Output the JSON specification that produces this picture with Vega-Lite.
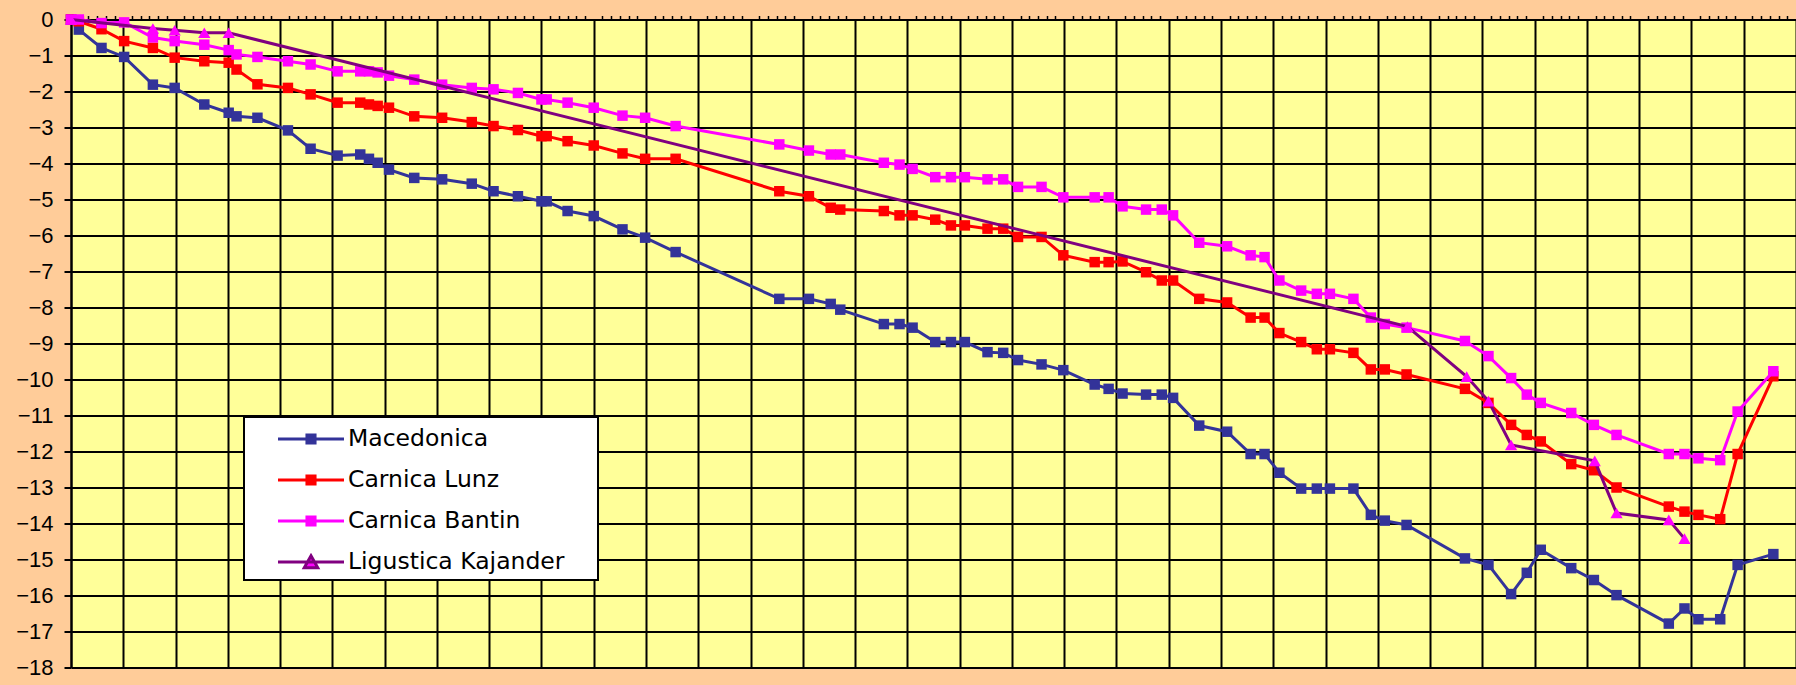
{
"$schema": "https://vega.github.io/schema/vega-lite/v6.json",
"width": 1725, "height": 648,
"autosize": {"type": "none"},
"padding": {"left": 71, "top": 19.5, "right": 0, "bottom": 17.5},
"background": "#FFCC99",
"config": {"view": {"fill": "#FFFF99", "stroke": null}},
"datasets": {
"mac": [[0,0],[0.9,-0.28],[3.5,-0.79],[6.1,-1.04],[9.4,-1.81],[11.9,-1.9],[15.3,-2.36],[18.1,-2.59],[19,-2.69],[21.4,-2.73],[24.9,-3.08],[27.5,-3.59],[30.6,-3.78],[33.2,-3.75],[34.2,-3.87],[35.2,-3.98],[36.5,-4.17],[39.4,-4.4],[42.6,-4.44],[46,-4.56],[48.5,-4.77],[51.3,-4.91],[54,-5.05],[54.6,-5.05],[57,-5.32],[60,-5.46],[63.3,-5.83],[65.9,-6.06],[69.4,-6.46],[81.3,-7.76],[84.7,-7.76],[87.2,-7.9],[88.3,-8.06],[93.3,-8.46],[95.1,-8.46],[96.6,-8.56],[99.2,-8.96],[101,-8.96],[102.6,-8.96],[105.2,-9.24],[107,-9.26],[108.7,-9.46],[111.4,-9.58],[113.9,-9.74],[117.5,-10.14],[119.1,-10.26],[120.7,-10.39],[123.4,-10.42],[125.2,-10.42],[126.5,-10.51],[129.5,-11.28],[132.7,-11.45],[135.4,-12.07],[137,-12.07],[138.7,-12.59],[141.2,-13.03],[143,-13.03],[144.5,-13.03],[147.2,-13.03],[149.2,-13.76],[150.8,-13.92],[153.3,-14.04],[160,-14.97],[162.7,-15.15],[165.3,-15.96],[167.1,-15.37],[168.7,-14.73],[172.2,-15.24],[174.8,-15.57],[177.4,-15.99],[183.4,-16.78],[185.2,-16.36],[186.8,-16.66],[189.3,-16.66],[191.3,-15.15],[195.4,-14.85]],
"lunz": [[0,0],[0.9,-0.05],[3.5,-0.27],[6.1,-0.6],[9.4,-0.79],[11.9,-1.06],[15.3,-1.16],[18.1,-1.2],[19,-1.39],[21.4,-1.8],[24.9,-1.9],[27.5,-2.08],[30.6,-2.31],[33.2,-2.31],[34.2,-2.36],[35.2,-2.4],[36.5,-2.45],[39.4,-2.69],[42.6,-2.73],[46,-2.85],[48.5,-2.96],[51.3,-3.07],[54,-3.24],[54.6,-3.24],[57,-3.38],[60,-3.5],[63.3,-3.72],[65.9,-3.87],[69.4,-3.87],[81.3,-4.77],[84.7,-4.91],[87.2,-5.23],[88.3,-5.28],[93.3,-5.32],[95.1,-5.44],[96.6,-5.44],[99.2,-5.56],[101,-5.72],[102.6,-5.72],[105.2,-5.81],[107,-5.81],[108.7,-6.04],[111.4,-6.04],[113.9,-6.55],[117.5,-6.74],[119.1,-6.74],[120.7,-6.72],[123.4,-7.02],[125.2,-7.25],[126.5,-7.25],[129.5,-7.76],[132.7,-7.86],[135.4,-8.28],[137,-8.28],[138.7,-8.71],[141.2,-8.96],[143,-9.16],[144.5,-9.16],[147.2,-9.26],[149.2,-9.72],[150.8,-9.72],[153.3,-9.86],[160,-10.26],[162.7,-10.65],[165.3,-11.26],[167.1,-11.54],[168.7,-11.72],[172.2,-12.35],[174.8,-12.52],[177.4,-13.0],[183.4,-13.53],[185.2,-13.67],[186.8,-13.76],[189.3,-13.88],[191.3,-12.07],[195.4,-9.91]],
"bantin": [[0,0],[0.9,0],[3.5,-0.1],[6.1,-0.08],[9.4,-0.5],[11.9,-0.6],[15.3,-0.7],[18.1,-0.85],[19,-0.97],[21.4,-1.04],[24.9,-1.16],[27.5,-1.25],[30.6,-1.44],[33.2,-1.44],[34.2,-1.44],[35.2,-1.47],[36.5,-1.56],[39.4,-1.67],[42.6,-1.81],[46,-1.9],[48.5,-1.94],[51.3,-2.04],[54,-2.22],[54.6,-2.22],[57,-2.31],[60,-2.45],[63.3,-2.67],[65.9,-2.73],[69.4,-2.96],[81.3,-3.47],[84.7,-3.64],[87.2,-3.75],[88.3,-3.75],[93.3,-3.98],[95.1,-4.03],[96.6,-4.15],[99.2,-4.38],[101,-4.38],[102.6,-4.38],[105.2,-4.44],[107,-4.44],[108.7,-4.65],[111.4,-4.65],[113.9,-4.94],[117.5,-4.94],[119.1,-4.94],[120.7,-5.19],[123.4,-5.28],[125.2,-5.28],[126.5,-5.44],[129.5,-6.2],[132.7,-6.3],[135.4,-6.55],[137,-6.6],[138.7,-7.25],[141.2,-7.53],[143,-7.62],[144.5,-7.62],[147.2,-7.76],[149.2,-8.28],[150.8,-8.46],[153.3,-8.56],[160,-8.93],[162.7,-9.35],[165.3,-9.96],[167.1,-10.42],[168.7,-10.65],[172.2,-10.93],[174.8,-11.26],[177.4,-11.54],[183.4,-12.07],[185.2,-12.07],[186.8,-12.19],[189.3,-12.24],[191.3,-10.89],[195.4,-9.77]],
"lig": [[0,0],[9.4,-0.25],[11.9,-0.3],[15.3,-0.37],[18.1,-0.37],[153.4,-8.53],[160.2,-9.92],[162.7,-10.6],[165.3,-11.82],[174.9,-12.26],[177.4,-13.71],[183.4,-13.9],[185.2,-14.42]]
},
"data": {"name": "mac"},
"encoding": {
  "x": {"field": "0", "type": "quantitative",
    "scale": {"domain": [0, 198], "nice": false, "zero": false},
    "axis": {"orient": "top", "title": null, "labels": false, "tickCount": 198,
      "grid": true, "gridColor": "#000000", "gridWidth": 2,
      "gridOpacity": {"condition": {"test": "datum.value % 6 === 0", "value": 1}, "value": 0},
      "ticks": true, "tickSize": 4, "tickWidth": 1.5, "tickColor": "#000000",
      "tickOpacity": {"condition": {"test": "datum.value % 6 === 0", "value": 0}, "value": 1},
      "domain": true, "domainColor": "#000000", "domainWidth": 2}},
  "y": {"field": "1", "type": "quantitative",
    "scale": {"domain": [-18, 0], "nice": false, "zero": false},
    "axis": {"title": null, "tickCount": 18, "grid": true, "gridColor": "#000000", "gridWidth": 2,
      "labelFont": "Liberation Sans", "labelFontSize": 22, "labelColor": "#000000", "labelPadding": 11,
      "tickSize": 7, "tickWidth": 2, "tickColor": "#000000",
      "domain": true, "domainColor": "#000000", "domainWidth": 2}},
  "color": {"field": "s", "type": "nominal",
    "scale": {"domain": ["Macedonica", "Carnica Lunz", "Carnica Bantin", "Ligustica Kajander"],
              "range": ["#333399", "#FF0000", "#FF00FF", "#800080"]},
    "legend": {"orient": "none", "legendX": 173, "legendY": 397.5, "title": null, "direction": "vertical",
      "fillColor": "#FFFFFF", "strokeColor": "#000000", "padding": 5.5,
      "symbolSize": 900, "symbolStrokeWidth": 3, "symbolOffset": 45, "labelOffset": 20.5,
      "labelFont": "DejaVu Sans", "labelFontSize": 23.5, "labelColor": "#000000", "labelLimit": 500,
      "rowPadding": 13, "labelExpr": "datum.label + '\u00a0\u00a0\u00a0\u2009\u200b'",
      "encode": {
        "symbols": {"update": {
          "shape": {"signal": "datum.value === 'Ligustica Kajander' ? 'M-2.2,0H2.2M0,-0.42L0.45,0.38H-0.45Z' : 'M-2.2,0H2.2M-0.27,-0.27H0.27V0.27H-0.27Z'"},
          "fill": {"signal": "datum.value === 'Macedonica' ? '#333399' : datum.value === 'Carnica Lunz' ? '#FF0000' : '#FF00FF'"},
          "stroke": {"signal": "datum.value === 'Macedonica' ? '#333399' : datum.value === 'Carnica Lunz' ? '#FF0000' : datum.value === 'Carnica Bantin' ? '#FF00FF' : '#800080'"},
          "strokeWidth": {"value": 3}, "opacity": {"value": 1}}},
        "legend": {"update": {"strokeWidth": {"value": 2}}}}}}
},
"layer": [
  {"data": {"name": "mac"}, "transform": [{"calculate": "'Macedonica'", "as": "s"}], "mark": {"type": "line", "strokeWidth": 3}},
  {"data": {"name": "mac"}, "mark": {"type": "point", "shape": "square", "filled": true, "size": 110, "opacity": 1}, "encoding": {"color": {"value": "#333399"}}},
  {"data": {"name": "lunz"}, "transform": [{"calculate": "'Carnica Lunz'", "as": "s"}], "mark": {"type": "line", "strokeWidth": 3}},
  {"data": {"name": "lunz"}, "mark": {"type": "point", "shape": "square", "filled": true, "size": 110, "opacity": 1}, "encoding": {"color": {"value": "#FF0000"}}},
  {"data": {"name": "bantin"}, "transform": [{"calculate": "'Carnica Bantin'", "as": "s"}], "mark": {"type": "line", "strokeWidth": 3}},
  {"data": {"name": "bantin"}, "mark": {"type": "point", "shape": "square", "filled": true, "size": 110, "opacity": 1}, "encoding": {"color": {"value": "#FF00FF"}}},
  {"data": {"name": "lig"}, "transform": [{"calculate": "'Ligustica Kajander'", "as": "s"}], "mark": {"type": "line", "strokeWidth": 3}},
  {"data": {"name": "lig"}, "mark": {"type": "point", "shape": "triangle-up", "filled": true, "size": 150, "opacity": 1}, "encoding": {"color": {"value": "#FF00FF"}}}
]
}
